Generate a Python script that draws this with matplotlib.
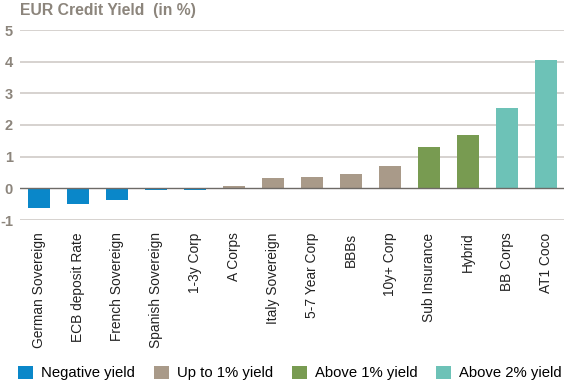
import matplotlib
matplotlib.use("Agg")
import matplotlib.pyplot as plt
from matplotlib.patches import Patch

categories = ["German Sovereign", "ECB deposit Rate", "French Sovereign", "Spanish Sovereign",
              "1-3y Corp", "A Corps", "Italy Sovereign", "5-7 Year Corp", "BBBs", "10y+ Corp",
              "Sub Insurance", "Hybrid", "BB Corps", "AT1 Coco"]
values = [-0.62, -0.50, -0.37, -0.05, -0.04, 0.07, 0.33, 0.35, 0.45, 0.70, 1.32, 1.67, 2.54, 4.04]
groups = [0, 0, 0, 0, 0, 1, 1, 1, 1, 1, 2, 2, 3, 3]
group_labels = ["Negative yield", "Up to 1% yield", "Above 1% yield", "Above 2% yield"]
group_colors = ["#0a87c9", "#a99a89", "#789b51", "#6dc2b7"]
yticks = [-1, 0, 1, 2, 3, 4, 5]

plt.rcParams['font.family'] = ['Liberation Sans', 'DejaVu Sans']
grey = "#8c857c"

fig = plt.figure(figsize=(5.65, 3.83), dpi=100)
ax = fig.add_axes([20/565, 1-220/383, 544/565, 190/383])

x = list(range(len(categories)))
ax.bar(x, values, width=0.57, color=[group_colors[g] for g in groups], zorder=3)
ax.set_xlim(-0.49, 13.46)
ax.set_ylim(-1, 5)
ax.set_yticks(yticks)
ax.set_yticklabels([str(t) for t in yticks], color=grey, fontsize=10.5, fontweight='bold')
for t in yticks:
    if t == 0:
        ax.axhline(t, color="#6e6a66", lw=1.0, zorder=4)
    else:
        ax.axhline(t, color="#cfcbc7", lw=1.2, zorder=1)
ax.set_xticks(x)
ax.set_xticklabels(categories, rotation=90, fontsize=9.9, color="#222222", va='top', ha='center')
ax.tick_params(axis='both', length=0)
ax.tick_params(axis='x', pad=9)
ax.tick_params(axis='y', pad=5)
for s in ax.spines.values():
    s.set_visible(False)

fig.text(20/565, 1-10/383, "EUR Credit Yield  (in %)", color=grey, fontsize=11.3,
         fontweight='bold', va='center', ha='left')

handles = [Patch(facecolor=c, edgecolor='none') for c in group_colors]
fig.legend(handles, group_labels, loc='center left', bbox_to_anchor=(18/565, 1-373/383), ncol=4,
           frameon=False, fontsize=10.7, handlelength=1.0, handleheight=1.0,
           handletextpad=0.54, columnspacing=1.28, borderaxespad=0, borderpad=0)

fig.savefig("out.png", dpi=100)
